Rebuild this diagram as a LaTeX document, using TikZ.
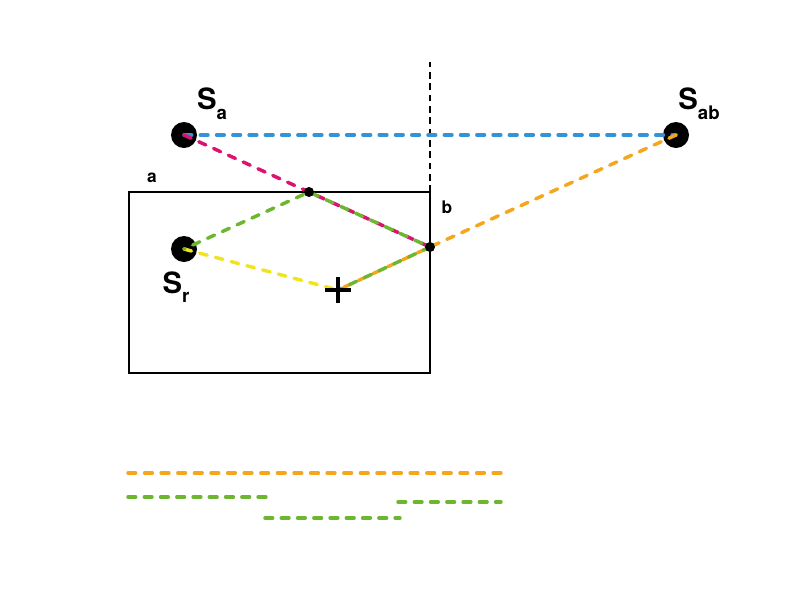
\documentclass[tikz,border=0pt]{standalone}
\usepackage{fontspec}
\setmainfont{TeX Gyre Heros}
\usepackage{tikz}
\usetikzlibrary{positioning,calc}
\definecolor{rayblue}{RGB}{52,146,214}
\definecolor{raymag}{RGB}{218,20,110}
\definecolor{raygreen}{RGB}{108,182,48}
\definecolor{rayyellow}{RGB}{240,228,30}
\definecolor{rayorange}{RGB}{245,166,26}
\tikzset{
  source/.style={circle, fill=black, minimum size=19.5pt, inner sep=0pt},
  hitpt/.style={circle, fill=black, minimum size=7.5pt, inner sep=0pt},
  ray/.style={line width=2.6pt, line cap=round, dash pattern=on 5.8pt off 6.4pt},
  wall/.style={line width=1.9pt},
  biglabel/.style={font=\fontsize{22}{24}\selectfont\bfseries, inner sep=0pt},
  smalllabel/.style={font=\fontsize{13}{14}\selectfont\bfseries, inner sep=0pt},
}
\newcommand{\srclabel}[1]{S\raisebox{-0.33em}{\fontsize{14}{14}\selectfont #1}}

\begin{document}
\begin{tikzpicture}[x=0.75pt, y=-0.75pt]
\useasboundingbox (0,0) rectangle (801,601);
%Room and wall
\draw[wall] (129,192) rectangle (430,373);
\draw[line width=2.1pt, dash pattern=on 5pt off 3.5pt] (430,192) -- (430,62);

%Nodes
\node[source] (Sa) at (184,135) {};
\node[source] (Sab) at (676,135) {};
\node[source] (Sr) at (184,249) {};
\coordinate (P1) at (309,192);
\coordinate (P2) at (430,247);
\coordinate (rec) at (338,290);

\node[biglabel] (laba) at (212,104) {\srclabel{a}};
\node[biglabel] (labab) at (699,104) {\srclabel{ab}};
\node[biglabel] (labr) at (176,287) {\srclabel{r}};
\node[smalllabel] (wa) at (152,178) {a};
\node[smalllabel] (wb) at (447,207) {b};

%Rays
\draw[ray, rayblue] (Sa.center) -- (Sab.center);
\draw[ray, raymag] (Sa.center) -- (P1) -- (P2);
\draw[ray, rayorange] (Sab.center) -- (P2) -- (rec);
\draw[ray, rayyellow] (Sr.center) -- (rec);
\draw[ray, raygreen, dash phase=5pt] (Sr.center) -- (P1) -- (P2) -- (rec);
\node[hitpt] at (P1) {};
\node[hitpt] at (P2) {};
\draw[line width=3pt] ($(rec)+(-13,0)$) -- ($(rec)+(13,0)$) ($(rec)+(0,-13)$) -- ($(rec)+(0,13)$);

%Path lengths
\coordinate (o1) at (128,473);
\coordinate (o2) at (501,473);
\coordinate (g1) at (128,497);
\coordinate (g2) at (267,497);
\coordinate (g3) at (265,518);
\coordinate (g4) at (400,518);
\coordinate (g5) at (398,502);
\coordinate (g6) at (501,502);
\draw[ray, rayorange, dash pattern=on 5.8pt off 6.65pt] (o1) -- (o2);
\draw[ray, raygreen] (g1) -- (g2);
\draw[ray, raygreen] (g3) -- (g4);
\draw[ray, raygreen] (g5) -- (g6);
\end{tikzpicture}
\end{document}
